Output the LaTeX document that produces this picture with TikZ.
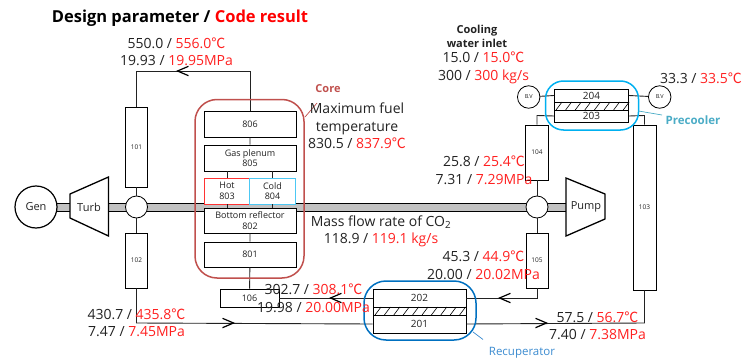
\documentclass[tikz,border=0pt]{standalone}
\usepackage{fontspec}
\setmainfont{Open Sans}
\newfontfamily\cjkf{Noto Sans CJK KR}
\usetikzlibrary{arrows.meta}
\definecolor{redv}{HTML}{FF2020}
\definecolor{ink}{HTML}{222222}
\definecolor{corec}{HTML}{C0504D}
\definecolor{recc}{HTML}{0070C0}
\definecolor{prec}{HTML}{00B0F0}
\definecolor{prel}{HTML}{4BACC6}
\definecolor{recl}{HTML}{3B8BD0}
\newcommand{\dC}{{\cjkf ℃}}
\newcommand{\rv}[1]{\textcolor{redv}{#1}}
\newcommand{\openarrow}[3]{\draw[black,line width=1.2pt] (#1+#3*5.5,#2-4.7) -- (#1-#3*5.5,#2) -- (#1+#3*5.5,#2+4.7);}
\tikzset{
  x=1pt,y=-1pt,
  box/.style={draw=black,fill=white,line width=.9pt,minimum width=#1,inner sep=0pt,font=\fontsize{9}{10.5}\selectfont,text=ink,align=center},
  hxbox/.style={box=#1,font=\fontsize{10}{11}\selectfont},
  val/.style={font=\fontsize{14}{17.5}\selectfont,text=ink,align=center,inner sep=0pt},
  pipe/.style={draw=ink,line width=.9pt},
  circ/.style={circle,draw=black,fill=white,inner sep=0pt},
  outl/.style={rounded corners=#1,line width=1.5pt}
}
\begin{document}
\begin{tikzpicture}
\useasboundingbox (0,0) rectangle (749,361);
% shaft
\fill[black!24] (57,203) rectangle (566,211);
\draw[black,line width=1pt] (57,203) -- (566,203) (57,211) -- (566,211);
% rotating machines
\node[circ,line width=1.2pt,minimum size=42pt,font=\fontsize{11}{13}\selectfont,text=ink] (gen) at (36,207) {Gen};
\draw[black,line width=1.3pt,fill=white] (70,194) -- (108.5,177) -- (108.5,236) -- (70,218) -- cycle;
\node[font=\fontsize{11}{13}\selectfont,text=ink,inner sep=0pt] (turb) at (89,207) {Turb};
\draw[black,line width=1.3pt,fill=white] (566,178) -- (605,194) -- (605,219) -- (566,236) -- cycle;
\node[font=\fontsize{11}{13}\selectfont,text=ink,inner sep=0pt] (pump) at (586,207) {Pump};
% pipe components
\node[box,minimum width=22pt,minimum height=80pt] (p101) at (136.5,147) {\fontsize{6.5}{8}\selectfont 101};
\node[box,minimum width=22pt,minimum height=55pt] (p102) at (136.5,260.5) {\fontsize{6.5}{8}\selectfont 102};
\node[box,minimum width=22.5pt,minimum height=55pt] (p104) at (537,152.5) {\fontsize{6.5}{8}\selectfont 104};
\node[box,minimum width=22pt,minimum height=55pt] (p105) at (537,260.5) {\fontsize{6.5}{8}\selectfont 105};
\node[box,minimum width=23pt,minimum height=165pt] (p103) at (644.5,207.5) {\fontsize{6.5}{8}\selectfont 103};
\node[circ,line width=.8pt,minimum size=22pt] (j1) at (136.5,207) {};
\node[circ,line width=.8pt,minimum size=22pt] (j2) at (537,207) {};
% core blocks
\node[box=92pt,minimum height=26pt] (c806) at (250,124) {806};
\node[box=92pt,minimum height=26pt] (c805) at (250,158) {Gas plenum\\805};
\node[box=46pt,minimum height=26pt,draw=red!80!white] (c803) at (227,191) {Hot\\803};
\node[box=46pt,minimum height=26pt,draw=prec!70!white] (c804) at (272.5,191) {Cold\\804};
\node[box=92pt,minimum height=25pt] (c802) at (250,220.5) {Bottom reflector\\802};
\node[box=92pt,minimum height=25pt] (c801) at (250,254.5) {801};
\node[box=59pt,minimum height=18pt] (c106) at (249.5,298) {106};
% heat exchangers
\node[hxbox=93pt,minimum height=18pt] (h202) at (419.5,298) {202};
\node[hxbox=93pt,minimum height=18pt] (h201) at (419.5,324) {201};
\node[hxbox=74pt,minimum height=13pt] (h204) at (591.5,95.5) {204};
\node[hxbox=74pt,minimum height=12pt] (h203) at (591.5,116) {203};
\node[draw=black,line width=.9pt,minimum width=93pt,minimum height=8pt,inner sep=0pt] (hatA) at (419.5,311) {};
\node[draw=black,line width=.9pt,minimum width=74pt,minimum height=8pt,inner sep=0pt] (hatB) at (591.5,106) {};
\foreach \k in {0,...,9}{\draw[black,line width=.6pt] (375+\k*9.4,315) -- (381+\k*9.4,307);}
\foreach \k in {0,...,7}{\draw[black,line width=.6pt] (556+\k*9.6,110) -- (562+\k*9.6,102);}
% valves
\node[circ,line width=.8pt,minimum size=22.5pt,font=\fontsize{5.5}{6}\selectfont,text=ink] (bv1) at (528.7,97) {B.V};
\node[circ,line width=.8pt,minimum size=22.5pt,font=\fontsize{5.5}{6}\selectfont,text=ink] (bv2) at (659.7,97) {B.V};
% connectors
\draw[pipe] (p101.north) -- (136.5,71) -- (250,71) -- (c806.north);
\draw[pipe] (c806) -- (c805) (c801) -- (c802) (c801) -- (c106);
\draw[pipe] (c805.south -| c803) -- (c803) (c805.south -| c804) -- (c804);
\draw[pipe] (c803.south) -- (c802.north -| c803) (c804.south) -- (c802.north -| c804);
\draw[pipe] (p101.south) -- (j1) (j1) -- (p102.north);
\draw[pipe] (p104.south) -- (j2) (j2) -- (p105.north);
\draw[pipe] (p102.south) -- (136.5,323) -- (h201.west);
\draw[pipe] (h201.east) -- (644.5,323) -- (p103.south);
\draw[pipe] (p105.south) -- (537,298) -- (h202.east);
\draw[pipe] (h202.west) -- (c106.east);
\draw[pipe] (p104.north) -- (537,115.5) -- (h203.west);
\draw[pipe] (p103.north) -- (644.5,115.5) -- (h203.east);
\draw[pipe] (bv1) -- (h204.west) (h204.east) -- (bv2);
\openarrow{183}{71}{1}
\openarrow{228}{323}{-1}
\openarrow{336}{298}{1}
\openarrow{505}{298}{1}
\openarrow{541}{323}{-1}
% outlines
\draw[corec,outl=22pt] (195,99.5) rectangle (304,278);
\draw[recc,outl=22pt] (364,281) rectangle (476,340);
\draw[prec,outl=18pt] (545.5,81) rectangle (638.5,130);
\coordinate (coreL) at (317,103);
\coordinate (precL) at (662,115);
\coordinate (recL) at (483,339.5);
\draw[corec,line width=.7pt] (305,117) -- (coreL);
\draw[prel,line width=.7pt] (638.5,111) -- (precL);
\draw[recl,line width=.7pt] (473,332) -- (recL);
% labels
\node[font=\bfseries\fontsize{16.5}{19}\selectfont,inner sep=0pt] (title) at (180,18) {Design parameter / \textcolor{red}{Code result}};
\node[val] (v1) at (176.5,52) {550.0 / \rv{556.0\dC}\\19.93 / \rv{19.95MPa}};
\node[font=\bfseries\fontsize{11}{13}\selectfont,text=corec,inner sep=0pt] (lcore) at (328,89) {Core};
\node[val] (v2) at (357,126) {Maximum fuel\\temperature\\830.5 / \rv{837.9\dC}};
\node[font=\bfseries\fontsize{11}{13.8}\selectfont,text=ink,align=center,inner sep=0pt] (cw) at (477,36) {Cooling\\water inlet};
\node[val] (v3) at (483.5,68) {15.0 / \rv{15.0\dC}\\300 / \rv{300 kg/s}};
\node[val] (v4) at (701,78) {33.3 / \rv{33.5\dC}};
\node[font=\bfseries\fontsize{11.5}{13}\selectfont,text=prel,inner sep=0pt] (lpre) at (693,120) {Precooler};
\node[val] (v5) at (484,170.5) {25.8 / \rv{25.4\dC}\\7.31 / \rv{7.29MPa}};
\node[val] (v6) at (381,231.5) {Mass flow rate of CO\textsubscript{2}\\118.9 / \rv{119.1 kg/s}};
\node[val] (v7) at (483.5,265.5) {45.3 / \rv{44.9\dC}\\20.00 / \rv{20.02MPa}};
\node[val] (v8) at (313.5,298.5) {302.7 / \rv{308.1\dC}\\19.98 / \rv{20.00MPa}};
\node[val] (v9) at (136.5,323) {430.7 / \rv{435.8\dC}\\7.47 / \rv{7.45MPa}};
\node[val] (v10) at (597.5,326) {57.5 / \rv{56.7\dC}\\7.40 / \rv{7.38MPa}};
\node[font=\fontsize{11.5}{13}\selectfont,text=recl,inner sep=0pt] (lrec) at (522,353) {Recuperator};
\end{tikzpicture}
\end{document}
